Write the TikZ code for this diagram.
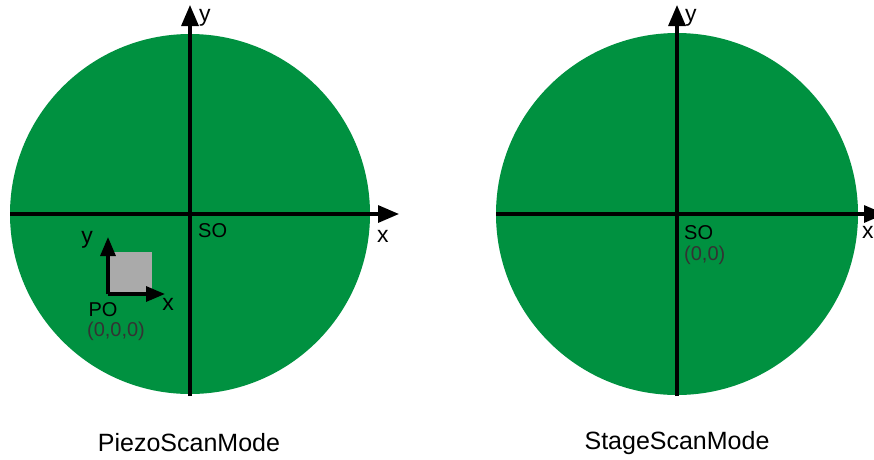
\documentclass[tikz,border=0pt]{standalone}
\usepackage{fontspec}
\setmainfont{Liberation Sans}
\usetikzlibrary{arrows.meta}
\definecolor{disc}{RGB}{0,145,64}
\definecolor{sq}{RGB}{170,170,170}
\definecolor{lbl}{RGB}{51,51,51}
\begin{document}
\begin{tikzpicture}[x=1pt,y=-1pt,
  axis/.style={line width=3.2pt,-{Triangle[length=21pt,width=17pt]}},
  small axis/.style={line width=3.2pt,-{Triangle[length=19pt,width=15pt]}},
  lab/.style={font=\fontsize{20}{22}\selectfont,inner sep=0pt},
  axlab/.style={font=\fontsize{23}{25}\selectfont,inner sep=0pt},
  captext/.style={font=\fontsize{25}{28}\selectfont,inner sep=0pt}]
\useasboundingbox (0,0) rectangle (874,459);
% left disc
\fill[disc] (190,214) circle[radius=180];
\coordinate (Lw) at (10,214);
\coordinate (Le) at (399,214);
\coordinate (Ls) at (190,396);
\coordinate (Ln) at (190,5);
\draw[axis] (Lw) -- (Le);
\draw[axis] (Ls) -- (Ln);
\node[axlab,anchor=west] (ly) at (199,18) {y};
\node[axlab,anchor=west] (lx) at (377,236) {x};
\node[lab,anchor=west] (lso) at (198,231) {SO};
% piezo
\fill[sq] (108,252) rectangle (152,294);
\coordinate (P0) at (108,294);
\coordinate (Px) at (165,294);
\coordinate (Py) at (108,237);
\draw[small axis] (P0) -- (Px);
\draw[small axis] (P0) -- (Py);
\node[axlab] (py) at (87,240) {y};
\node[axlab] (px) at (168,304) {x};
\node[lab] (po) at (103,310) {PO};
\node[lab,text=lbl] (poc) at (116,331) {(0,0,0)};
\node[captext] (c1) at (189,443) {PiezoScanMode};
% right disc
\fill[disc] (677,214) circle[radius=181];
\coordinate (Rw) at (496,214);
\coordinate (Re) at (885,214);
\coordinate (Rs) at (677,396);
\coordinate (Rn) at (677,5);
\draw[axis] (Rw) -- (Re);
\draw[axis] (Rs) -- (Rn);
\node[axlab,anchor=west] (ry) at (685,18) {y};
\node[axlab,anchor=west] (rx) at (862,232) {x};
\node[lab,anchor=west] (rso) at (684,233) {SO};
\node[lab,anchor=west,text=lbl] (rsoc) at (684,255) {(0,0)};
\node[captext] (c2) at (677,443) {StageScanMode};
\end{tikzpicture}
\end{document}
